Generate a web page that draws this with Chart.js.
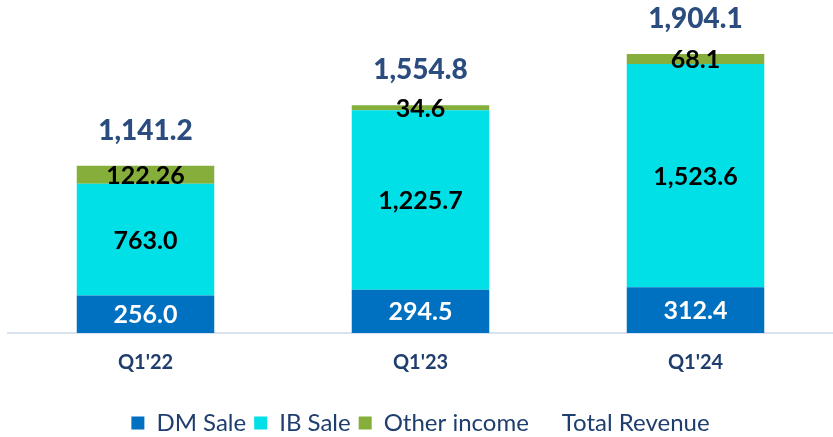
<!DOCTYPE html>
<html>
<head>
<meta charset="utf-8">
<script src="https://cdn.jsdelivr.net/npm/chart.js@4.4.1/dist/chart.umd.min.js"></script>
<style>
  html, body { margin: 0; padding: 0; background: #fff; overflow: hidden; }
  #wrap { position: absolute; left: 0; top: -32px; width: 833px; height: 477px; }
</style>
</head>
<body>
<div id="wrap"><canvas id="revenueChart"></canvas></div>
<script>
// datos del grafico
const quarters = ["Q1'22", "Q1'23", "Q1'24"];
const dmSale = [256.0, 294.5, 312.4];
const ibSale = [763.0, 1225.7, 1523.6];
const otherIncome = [122.26, 34.6, 68.1];
const totalRevenue = [1141.2, 1554.8, 1904.1];

const fmt = v => v.toLocaleString('en-US', { minimumFractionDigits: 1, maximumFractionDigits: 2 });

// etiquetas de valores sobre las barras
const valueLabels = {
    id: 'valueLabels',
    afterDatasetsDraw(chart) {
        const ctx = chart.ctx;
        ctx.save();
        ctx.textAlign = 'center';
        ctx.textBaseline = 'middle';
        chart.data.datasets.forEach((ds, i) => {
            const meta = chart.getDatasetMeta(i);
            meta.data.forEach((el, j) => {
                const txt = fmt(ds.data[j]);
                if (ds.type === 'line') {
                    ctx.font = '900 28px Lato';
                    ctx.fillStyle = '#2B4C7E';
                    ctx.fillText(txt, el.x, el.y - 35);
                } else {
                    ctx.font = 'bold 25px Lato';
                    ctx.fillStyle = i === 0 ? '#ffffff' : '#000000';
                    ctx.fillText(txt, el.x, (el.y + el.base) / 2 + 1);
                }
            });
        });
        ctx.restore();
    }
};

const ctx = document.getElementById('revenueChart').getContext('2d');
new Chart(ctx, {
    type: 'bar',
    data: {
        labels: quarters,
        datasets: [
            { label: 'DM Sale', data: dmSale, backgroundColor: '#0070C0', stack: 'rev' },
            { label: 'IB Sale', data: ibSale, backgroundColor: '#00E0E6', stack: 'rev' },
            { label: 'Other income', data: otherIncome, backgroundColor: '#86AE3A', stack: 'rev' },
            {
                type: 'line', label: 'Total Revenue', data: totalRevenue, stack: 'total',
                borderColor: 'rgba(0,0,0,0)', backgroundColor: 'rgba(0,0,0,0)',
                showLine: false, pointRadius: 0
            }
        ]
    },
    options: {
        responsive: true,
        maintainAspectRatio: false,
        animation: false,
        events: [],
        datasets: { bar: { categoryPercentage: 1, barPercentage: 0.5 } },
        layout: { padding: { left: 8, right: 0, top: 0, bottom: 0 } },
        scales: {
            x: {
                stacked: true,
                grid: { display: false },
                border: { color: '#D9E3F0', width: 2 },
                ticks: { color: '#1F3E6E', font: { family: 'Lato', weight: 'bold', size: 20 }, padding: 10 },
                afterFit(scale) { scale.height = 70; }
            },
            y: { stacked: true, display: false, min: 0, max: 2185 }
        },
        plugins: {
            title: {
                display: true, text: 'Total Revenue', color: '#2B4C7E',
                font: { family: 'Lato', weight: 'bold', size: 34 }, padding: { top: 0, bottom: 4 }
            },
            legend: {
                position: 'bottom',
                labels: {
                    color: '#1F3E6E', boxWidth: 13, boxHeight: 13, padding: 8,
                    font: { family: 'Lato', size: 24 }
                }
            },
            tooltip: { enabled: false }
        }
    },
    plugins: [valueLabels]
});
</script>
</body>
</html>
